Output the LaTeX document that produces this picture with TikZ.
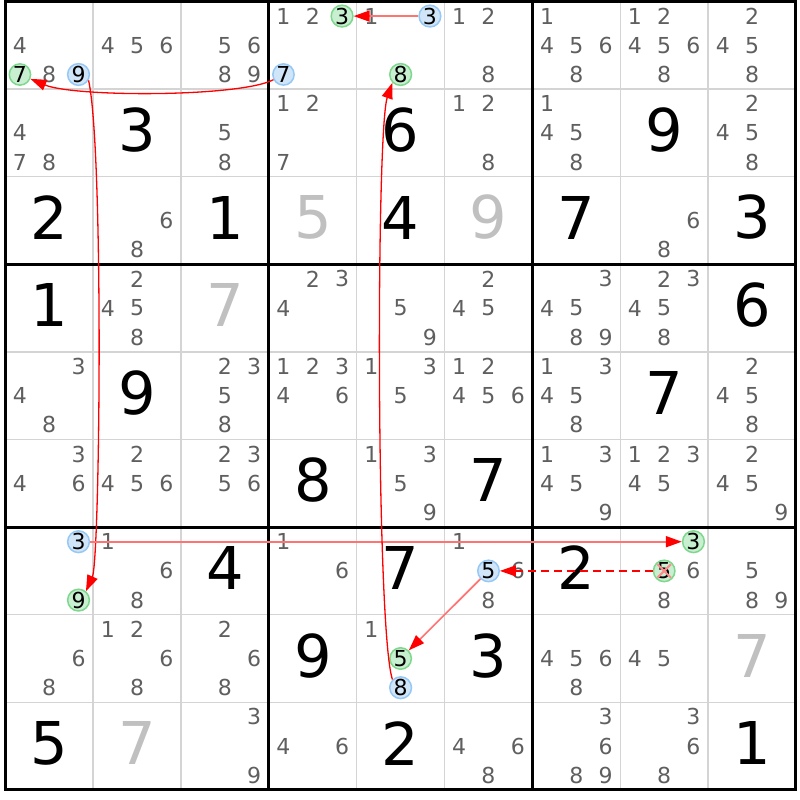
\documentclass[tikz,border=0pt]{standalone}
\usepackage{fontspec}
\setmainfont{DejaVu Sans}
\usetikzlibrary{calc,arrows.meta}
\definecolor{candgray}{RGB}{95,95,95}
\definecolor{solvgray}{RGB}{192,192,192}
\definecolor{gridgray}{RGB}{212,212,212}
\definecolor{ongreen}{RGB}{200,240,208}
\definecolor{ongreenrim}{RGB}{125,215,140}
\definecolor{offblue}{RGB}{208,229,248}
\definecolor{offbluerim}{RGB}{150,200,245}
\newcommand{\candfont}{\fontsize{22}{22}\selectfont}
\newcommand{\bigfont}{\fontsize{59}{59}\selectfont}
\tikzset{
  thingrid/.style={draw=gridgray, line width=1.5pt},
  thickgrid/.style={draw=black, line width=3pt},
  cand/.style={text=candgray, font=\candfont, inner sep=0pt},
  givenbig/.style={text=black, font=\bigfont, inner sep=0pt},
  solvedbig/.style={text=solvgray, font=\bigfont, inner sep=0pt},
  onring/.style={circle, draw=ongreenrim, fill=ongreen, line width=1.5pt,
    minimum size=21pt, inner sep=0pt, font=\candfont, text=black},
  offring/.style={circle, draw=offbluerim, fill=offblue, line width=1.5pt,
    minimum size=21pt, inner sep=0pt, font=\candfont, text=black},
  link/.style={draw=red, line width=1.3pt,
    -{Triangle[length=16pt,width=11pt,color=red]}},
  softlink/.style={draw=red!55, line width=1.7pt,
    -{Triangle[length=16pt,width=11pt,color=red]}},
  xcross/.style={draw=red!45, line width=2pt, shorten >=2pt, shorten <=2pt}
}
% big digits
\newcommand{\given}[3]{\node[givenbig] (g#1#2) at ($(#2-0.5,#1-0.534)$) {#3};}
\newcommand{\solved}[3]{\node[solvedbig] (g#1#2) at ($(#2-0.5,#1-0.534)$) {#3};}
% pencil marks: row, column, list
\newcommand{\cands}[3]{
\foreach \k in {#3}{
\pgfmathsetmacro{\kx}{#2-1+(mod(\k-1,3)+0.5)/3}
\pgfmathsetmacro{\ky}{#1-1+(floor((\k-1)/3)+0.5)/3}
\node[cand] (c#1#2\k) at (\kx,\ky) {\k};
}}
% ringed pencil mark: row, column, digit, style
\newcommand{\hlcand}[4]{
\pgfmathsetmacro{\kx}{#2-1+(mod(#3-1,3)+0.5)/3}
\pgfmathsetmacro{\ky}{#1-1+(floor((#3-1)/3)+0.5)/3}
\node[#4] (r#1#2#3) at (\kx,\ky) {#3};
}

\begin{document}
\begin{tikzpicture}[x=87.85pt,y=-87.6pt]
\useasboundingbox (-0.0603,-0.0171) rectangle (9.046,9.115);
\fill[white] (-0.0603,-0.0171) rectangle (9.046,9.115);

% grid
\foreach \i in {1,2,4,5,7,8}{
\draw[thingrid] (\i,0) -- (\i,9);
\draw[thingrid] (0,\i) -- (9,\i);
}
\foreach \i in {3,6}{
\draw[thickgrid] (\i,0) -- (\i,9);
\draw[thickgrid] (0,\i) -- (9,\i);
}
\draw[thickgrid] (0,0) rectangle (9,9);

% row 1
\cands{1}{1}{4,8}
\hlcand{1}{1}{7}{onring}
\hlcand{1}{1}{9}{offring}
\cands{1}{2}{4,5,6}
\cands{1}{3}{5,6,8,9}
\cands{1}{4}{1,2}
\hlcand{1}{4}{3}{onring}
\hlcand{1}{4}{7}{offring}
\cands{1}{5}{1}
\hlcand{1}{5}{3}{offring}
\hlcand{1}{5}{8}{onring}
\cands{1}{6}{1,2,8}
\cands{1}{7}{1,4,5,6,8}
\cands{1}{8}{1,2,4,5,6,8}
\cands{1}{9}{2,4,5,8}

% row 2
\cands{2}{1}{4,7,8}
\given{2}{2}{3}
\cands{2}{3}{5,8}
\cands{2}{4}{1,2,7}
\given{2}{5}{6}
\cands{2}{6}{1,2,8}
\cands{2}{7}{1,4,5,8}
\given{2}{8}{9}
\cands{2}{9}{2,4,5,8}

% row 3
\given{3}{1}{2}
\cands{3}{2}{6,8}
\given{3}{3}{1}
\solved{3}{4}{5}
\given{3}{5}{4}
\solved{3}{6}{9}
\given{3}{7}{7}
\cands{3}{8}{6,8}
\given{3}{9}{3}

% row 4
\given{4}{1}{1}
\cands{4}{2}{2,4,5,8}
\solved{4}{3}{7}
\cands{4}{4}{2,3,4}
\cands{4}{5}{5,9}
\cands{4}{6}{2,4,5}
\cands{4}{7}{3,4,5,8,9}
\cands{4}{8}{2,3,4,5,8}
\given{4}{9}{6}

% row 5
\cands{5}{1}{3,4,8}
\given{5}{2}{9}
\cands{5}{3}{2,3,5,8}
\cands{5}{4}{1,2,3,4,6}
\cands{5}{5}{1,3,5}
\cands{5}{6}{1,2,4,5,6}
\cands{5}{7}{1,3,4,5,8}
\given{5}{8}{7}
\cands{5}{9}{2,4,5,8}

% row 6
\cands{6}{1}{3,4,6}
\cands{6}{2}{2,4,5,6}
\cands{6}{3}{2,3,5,6}
\given{6}{4}{8}
\cands{6}{5}{1,3,5,9}
\given{6}{6}{7}
\cands{6}{7}{1,3,4,5,9}
\cands{6}{8}{1,2,3,4,5}
\cands{6}{9}{2,4,5,9}

% row 7
\hlcand{7}{1}{3}{offring}
\hlcand{7}{1}{9}{onring}
\cands{7}{2}{1,6,8}
\given{7}{3}{4}
\cands{7}{4}{1,6}
\given{7}{5}{7}
\cands{7}{6}{1,6,8}
\hlcand{7}{6}{5}{offring}
\given{7}{7}{2}
\cands{7}{8}{6,8}
\hlcand{7}{8}{3}{onring}
\hlcand{7}{8}{5}{onring}
\cands{7}{9}{5,8,9}

% row 8
\cands{8}{1}{6,8}
\cands{8}{2}{1,2,6,8}
\cands{8}{3}{2,6,8}
\given{8}{4}{9}
\cands{8}{5}{1}
\hlcand{8}{5}{5}{onring}
\hlcand{8}{5}{8}{offring}
\given{8}{6}{3}
\cands{8}{7}{4,5,6,8}
\cands{8}{8}{4,5}
\solved{8}{9}{7}

% row 9
\given{9}{1}{5}
\solved{9}{2}{7}
\cands{9}{3}{3,9}
\cands{9}{4}{4,6}
\given{9}{5}{2}
\cands{9}{6}{4,6,8}
\cands{9}{7}{3,6,8,9}
\cands{9}{8}{3,6,8}
\given{9}{9}{1}

% eliminated 5
\draw[xcross] (r785.north west) -- (r785.south east);
\draw[xcross] (r785.north east) -- (r785.south west);

% chain
\draw[softlink] (r153) -- (r143);
\draw[link] (r147) .. controls ($(r147)+(-0.5,0.26)$) and ($(r117)+(0.62,0.26)$) .. (r117);
\draw[link] (r119.-30) .. controls ($(r119)+(0.29,0.86)$) and ($(r719)+(0.245,-0.46)$) .. (r719.50);
\draw[softlink] (r713) -- (r783);
\draw[link, dash pattern=on 8pt off 5pt] (r785) -- (r765);
\draw[softlink] (r765) -- (r855);
\draw[link] (r858.135) .. controls ($(r858)+(-0.28,-0.66)$) and ($(r158)+(-0.28,0.63)$) .. (r158.-135);
\end{tikzpicture}
\end{document}
